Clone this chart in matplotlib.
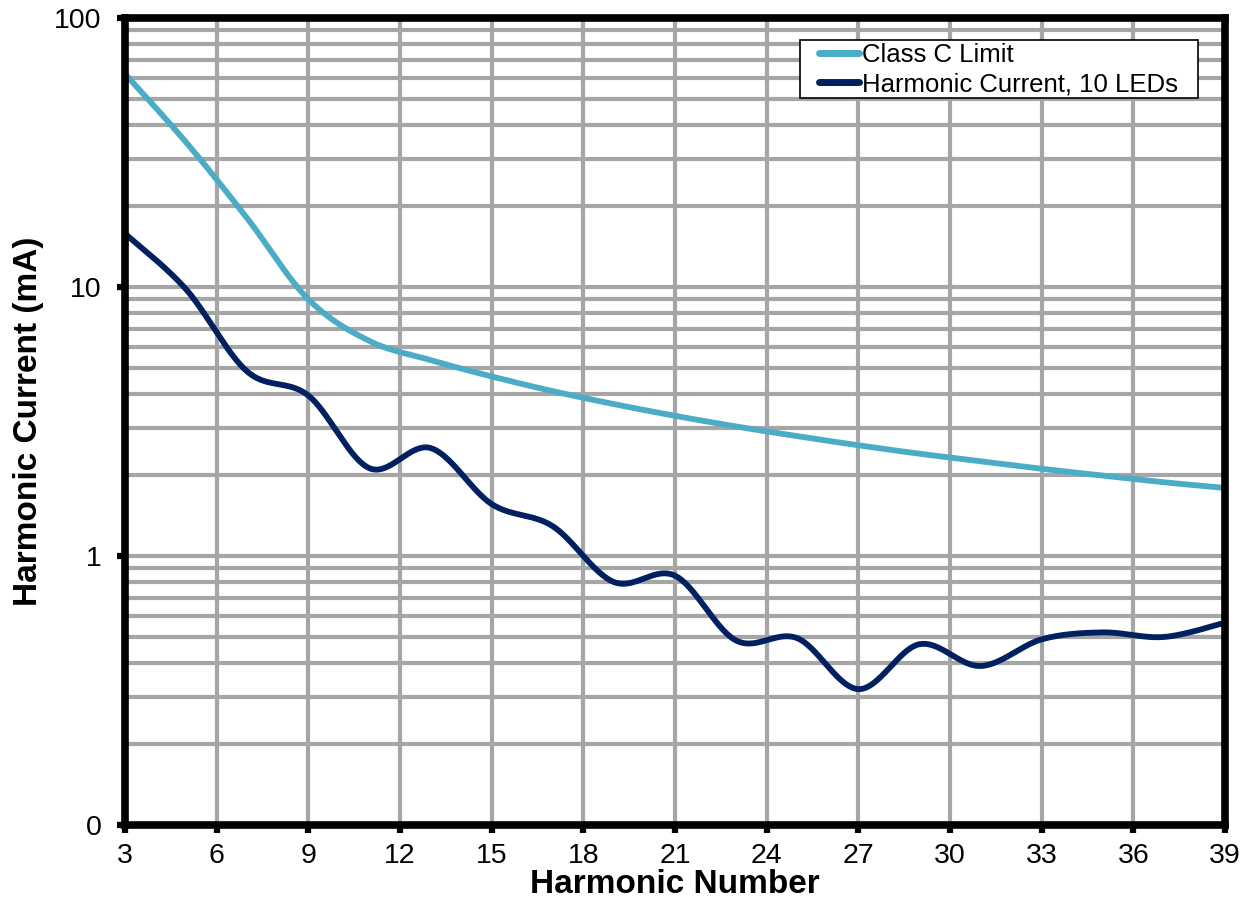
import numpy as np
import matplotlib
matplotlib.use("Agg")
import matplotlib.pyplot as plt
from matplotlib.ticker import FixedLocator, FixedFormatter, LogLocator, NullFormatter
from matplotlib.patches import Rectangle

# ---- data ----
harmonics = [3, 5, 7, 9, 11, 13, 15, 17, 19, 21, 23, 25, 27, 29, 31, 33, 35, 37, 39]
class_c_limit = [62, 34.5, 18, 9.0, 6.3, 5.35, 4.65, 4.1, 3.67, 3.32, 3.03, 2.79, 2.58,
                 2.40, 2.25, 2.11, 1.99, 1.88, 1.79]
harmonic_current = [15.8, 9.8, 4.85, 3.95, 2.12, 2.52, 1.56, 1.29, 0.80, 0.845, 0.485,
                    0.495, 0.32, 0.47, 0.39, 0.49, 0.52, 0.50, 0.565]
x_ticks = list(range(3, 40, 3))
y_ticks = [0.1, 1, 10, 100]
y_tick_labels = ["0", "1", "10", "100"]
series_names = ["Class C Limit", "Harmonic Current, 10 LEDs"]
series_colors = ["#4BACC6", "#002060"]


def excel_smooth(xs, ys, n=40):
    """Excel-like smoothed line (Catmull-Rom Bezier) in x / log10(y) space."""
    px = np.asarray(xs, float)
    py = np.log10(np.asarray(ys, float))
    P = np.column_stack([px, py])
    out = []
    m = len(P)
    for i in range(m - 1):
        p0 = P[i - 1] if i > 0 else P[i]
        p1 = P[i]
        p2 = P[i + 1]
        p3 = P[i + 2] if i + 2 < m else P[i + 1]
        c1 = p1 + (p2 - p0) / 6.0
        c2 = p2 - (p3 - p1) / 6.0
        t = np.linspace(0, 1, n, endpoint=(i == m - 2))[:, None]
        seg = ((1 - t) ** 3) * p1 + 3 * ((1 - t) ** 2) * t * c1 + 3 * (1 - t) * t ** 2 * c2 + t ** 3 * p2
        out.append(seg)
    S = np.vstack(out)
    return S[:, 0], 10 ** S[:, 1]


plt.rcParams['font.family'] = ['Liberation Sans', 'DejaVu Sans']

W, H = 1256, 913
fig = plt.figure(figsize=(W / 100, H / 100), dpi=100)
ax = fig.add_axes([125 / W, 1 - 825 / H, 1100 / W, 807 / H])

ax.set_yscale('log')
ax.set_xlim(3, 39)
ax.set_ylim(0.1, 100)

for vals, name, col in zip([class_c_limit, harmonic_current], series_names, series_colors):
    sx, sy = excel_smooth(harmonics, vals)
    ax.plot(sx, sy, color=col, lw=4.2, label=name, solid_capstyle='butt', zorder=3, clip_on=False)

ax.xaxis.set_major_locator(FixedLocator(x_ticks))
ax.yaxis.set_major_locator(FixedLocator(y_ticks))
ax.yaxis.set_major_formatter(FixedFormatter(y_tick_labels))
ax.yaxis.set_minor_locator(LogLocator(base=10, subs=np.arange(2, 10)))
ax.yaxis.set_minor_formatter(NullFormatter())

ax.grid(True, which='major', axis='both', color='#A6A6A6', lw=3.0, zorder=1)
ax.grid(True, which='minor', axis='y', color='#A6A6A6', lw=3.0, zorder=1)
ax.set_axisbelow(True)

for s in ax.spines.values():
    s.set_linewidth(5.5)
    s.set_color('black')
    s.set_zorder(4)

ax.tick_params(which='major', direction='out', length=6, width=4.5, color='black',
               labelsize=20.5, pad=7)
ax.tick_params(axis='y', which='major', pad=11)
ax.tick_params(which='minor', length=0)

ax.set_xlabel("Harmonic Number", fontsize=24, fontweight='bold', labelpad=0)
ax.set_ylabel("Harmonic Current (mA)", fontsize=24, fontweight='bold', labelpad=7)

# legend frame (drawn as a rectangle at the reference position)
fig.patches.append(Rectangle((800 / W, 1 - 98 / H), 398 / W, 58 / H, transform=fig.transFigure,
                             facecolor='white', edgecolor='black', lw=1.2, zorder=5))
leg = fig.legend(*ax.get_legend_handles_labels(), loc='upper left',
                 bbox_to_anchor=(819 / W, 1 - 43 / H), bbox_transform=fig.transFigure,
                 borderaxespad=0, borderpad=0, fontsize=18.5, frameon=False,
                 handlelength=1.55, handletextpad=0.12, labelspacing=0.2)
leg.set_zorder(6)
for line in leg.get_lines():
    line.set_solid_capstyle('round')
    line.set_linewidth(5)

fig.savefig("out.png", dpi=100)
